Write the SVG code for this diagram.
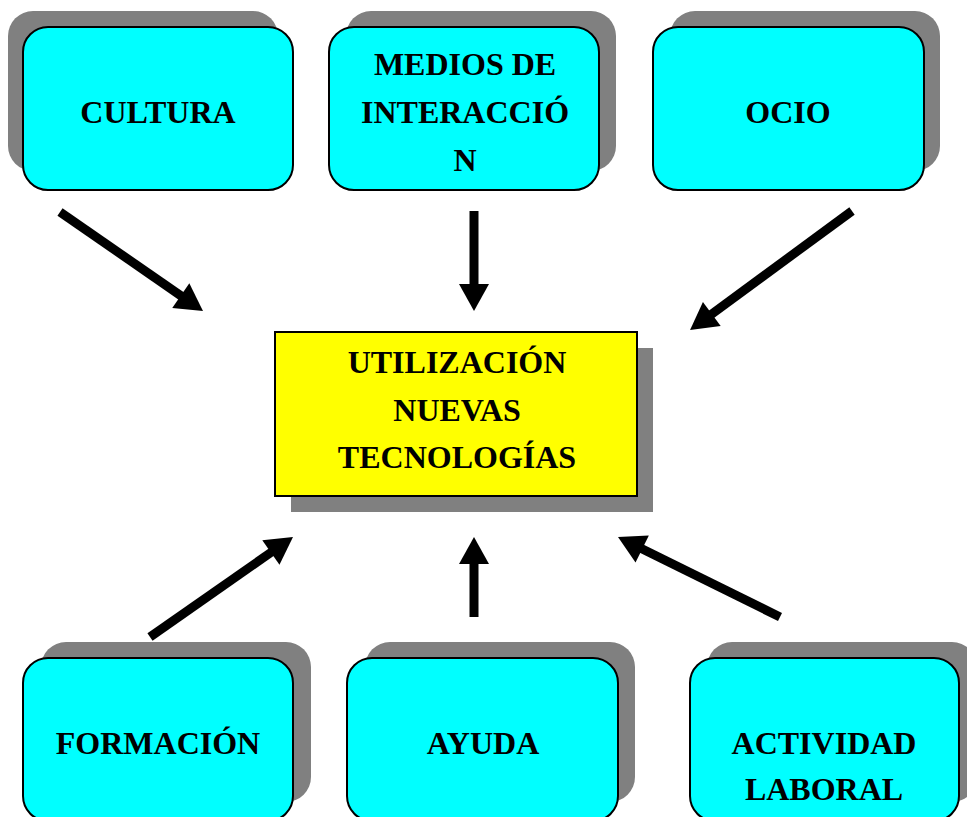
<svg xmlns="http://www.w3.org/2000/svg" width="967" height="817" viewBox="0 0 967 817">
<style>
.shadow{fill:#808080}
.box{fill:#00ffff;stroke:#000;stroke-width:2}
.center{fill:#ffff00;stroke:#000;stroke-width:2}
.t{font-family:"Liberation Serif","Times New Roman",serif;font-weight:bold;font-size:32px;text-anchor:middle;fill:#000}
.arr{stroke:#000;stroke-width:9;fill:none;marker-end:url(#ah)}
</style>
<defs>
<marker id="ah" markerUnits="userSpaceOnUse" markerWidth="32" markerHeight="34" viewBox="-2 -17 32 34" refX="1" refY="0" orient="auto">
<path d="M0,-15 L27,0 L0,15 z" fill="#000"/>
</marker>
</defs>
<rect width="967" height="817" fill="#fff"/>
<g id="cultura">
<rect class="shadow" x="8" y="11" width="270" height="160" rx="25"/>
<rect class="box" x="23" y="27" width="270" height="163" rx="25"/>
<text class="t" x="158" y="123">CULTURA</text>
</g>
<g id="medios">
<rect class="shadow" x="346" y="11" width="270" height="160" rx="25"/>
<rect class="box" x="329" y="27" width="270" height="163" rx="25"/>
<text class="t" x="465" y="75">MEDIOS DE</text>
<text class="t" x="465" y="123">INTERACCIÓ</text>
<text class="t" x="465" y="171">N</text>
</g>
<g id="ocio">
<rect class="shadow" x="670" y="11" width="270" height="160" rx="25"/>
<rect class="box" x="653" y="27" width="271" height="163" rx="25"/>
<text class="t" x="788" y="123">OCIO</text>
</g>
<g id="utilizacion">
<rect class="shadow" x="291" y="348" width="362" height="164"/>
<rect class="center" x="275" y="332" width="362" height="164"/>
<text class="t" x="457" y="373">UTILIZACIÓN</text>
<text class="t" x="457" y="421">NUEVAS</text>
<text class="t" x="457" y="468">TECNOLOGÍAS</text>
</g>
<g id="formacion">
<rect class="shadow" x="41" y="642" width="270" height="160" rx="25"/>
<rect class="box" x="23" y="658" width="270" height="163" rx="25"/>
<text class="t" x="158" y="754">FORMACIÓN</text>
</g>
<g id="ayuda">
<rect class="shadow" x="365" y="642" width="270" height="160" rx="25"/>
<rect class="box" x="347" y="658" width="271" height="163" rx="25"/>
<text class="t" x="483" y="754">AYUDA</text>
</g>
<g id="actividad">
<rect class="shadow" x="707" y="642" width="270" height="160" rx="25"/>
<rect class="box" x="690" y="658" width="269" height="163" rx="25"/>
<text class="t" x="824" y="754">ACTIVIDAD</text>
<text class="t" x="824" y="800">LABORAL</text>
</g>
<g id="connectors">
<line class="arr" x1="60" y1="212" x2="181.6" y2="296.2"/>
<line class="arr" x1="474" y1="211" x2="474" y2="285"/>
<line class="arr" x1="852" y1="211" x2="711" y2="314.6"/>
<line class="arr" x1="150" y1="637" x2="271.7" y2="551.9"/>
<line class="arr" x1="474" y1="617" x2="474" y2="563"/>
<line class="arr" x1="780" y1="617" x2="641.3" y2="548.5"/>
</g>
</svg>
